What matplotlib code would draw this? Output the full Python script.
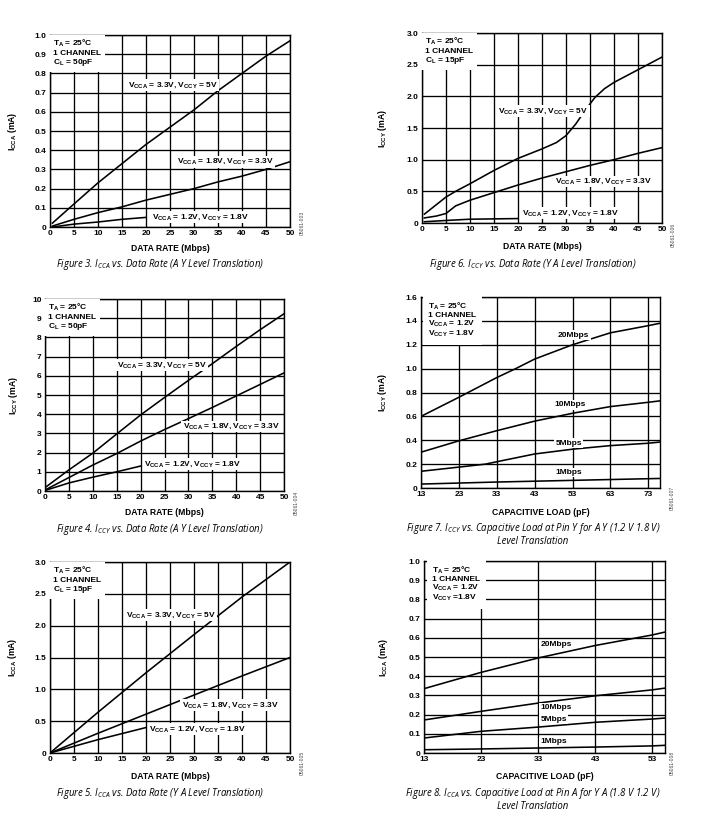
import matplotlib
matplotlib.use('Agg')
import matplotlib.pyplot as plt

plt.rcParams['font.family'] = 'Liberation Sans'
plt.rcParams['font.weight'] = 'bold'
plt.rcParams['mathtext.fontset'] = 'custom'
plt.rcParams['mathtext.rm'] = 'Liberation Sans:bold'
plt.rcParams['mathtext.bf'] = 'Liberation Sans:bold'
plt.rcParams['mathtext.it'] = 'Open Sans:style=italic:weight=normal'

# ---- Figure 3: ICCA vs data rate (A->Y), CL = 50pF
f3_rate = [0.5, 5, 10, 15, 20, 25, 30, 35, 40, 45, 50]
f3_hi = [0.02, 0.12, 0.23, 0.33, 0.43, 0.52, 0.61, 0.71, 0.80, 0.89, 0.97]
f3_mid = [0.005, 0.04, 0.075, 0.105, 0.14, 0.17, 0.20, 0.235, 0.265, 0.30, 0.34]
f3_rate_lo = [0.5, 5, 10, 15, 20]
f3_lo = [0.0, 0.015, 0.026, 0.04, 0.05]

# ---- Figure 6: ICCY vs data rate (Y->A), CL = 15pF
f6_rate_hi = [0.5, 3, 5, 7, 10, 15, 20, 25, 28, 30, 32, 34, 36, 38, 40, 43, 45, 50]
f6_hi = [0.14, 0.29, 0.41, 0.50, 0.62, 0.83, 1.02, 1.17, 1.27, 1.38, 1.56, 1.78, 1.98, 2.12, 2.22, 2.34, 2.42, 2.62]
f6_rate_mid = [0.5, 3, 5, 7, 10, 15, 20, 25, 30, 35, 40, 45, 50]
f6_mid = [0.08, 0.11, 0.15, 0.27, 0.36, 0.48, 0.60, 0.71, 0.81, 0.91, 1.00, 1.10, 1.19]
f6_rate_lo = [0.5, 5, 10, 15, 20]
f6_lo = [0.02, 0.04, 0.06, 0.065, 0.07]

# ---- Figure 4: ICCY vs data rate (A->Y), CL = 50pF
f4_rate = [0.3, 5, 10, 15, 20, 25, 30, 35, 40, 45, 50]
f4_hi = [0.23, 1.1, 1.97, 2.97, 3.96, 4.87, 5.76, 6.63, 7.53, 8.40, 9.23]
f4_mid = [0.09, 0.7, 1.35, 1.95, 2.6, 3.2, 3.77, 4.35, 4.95, 5.55, 6.15]
f4_rate_lo = [0.3, 5, 10, 15, 20]
f4_lo = [0.05, 0.42, 0.72, 1.0, 1.3]

# ---- Figure 5: ICCA vs data rate (Y->A), CL = 15pF
f5_rate = [0, 10, 20, 30, 40, 50]
f5_hi = [0.0, 0.64, 1.26, 1.86, 2.45, 3.0]
f5_mid = [0.0, 0.31, 0.61, 0.91, 1.21, 1.5]
f5_rate_lo = [0, 10, 20]
f5_lo = [0.0, 0.21, 0.40]

# ---- Figure 7: ICCY vs capacitive load, A->Y (1.2V -> 1.8V)
f7_load_20 = [13, 23, 33, 38, 43, 53, 63, 73, 76.1]
f7_20 = [0.60, 0.76, 0.925, 1.0, 1.08, 1.20, 1.30, 1.36, 1.38]
f7_load_10 = [13, 23, 33, 43, 53, 63, 73, 76.1]
f7_10 = [0.30, 0.395, 0.48, 0.56, 0.626, 0.682, 0.718, 0.73]
f7_load_5 = [13, 23, 30, 33, 43, 53, 63, 73, 76.1]
f7_5 = [0.14, 0.175, 0.20, 0.22, 0.285, 0.325, 0.355, 0.375, 0.385]
f7_load_1 = [13, 33, 53, 76.1]
f7_1 = [0.033, 0.05, 0.064, 0.08]

# ---- Figure 8: ICCA vs capacitive load, Y->A (1.8V -> 1.2V)
f8_load = [13, 23, 33, 43, 53, 55.2]
f8_20 = [0.335, 0.42, 0.495, 0.56, 0.615, 0.63]
f8_10 = [0.172, 0.217, 0.26, 0.298, 0.329, 0.338]
f8_5 = [0.078, 0.113, 0.135, 0.16, 0.177, 0.182]
f8_1 = [0.017, 0.021, 0.026, 0.031, 0.037, 0.04]

rate_ticks = [0, 5, 10, 15, 20, 25, 30, 35, 40, 45, 50]
load_ticks_7 = [13, 23, 33, 43, 53, 63, 73]
load_ticks_8 = [13, 23, 33, 43, 53]

V33 = r'V$_{\mathbf{CCA}}$ = 3.3V, V$_{\mathbf{CCY}}$ = 5V'
V18 = r'V$_{\mathbf{CCA}}$ = 1.8V, V$_{\mathbf{CCY}}$ = 3.3V'
V12 = r'V$_{\mathbf{CCA}}$ = 1.2V, V$_{\mathbf{CCY}}$ = 1.8V'

FS = 6.0
W, H = 725, 822


def fmt(v, dec):
    if v == 0:
        return '0'
    return f'{v:.{dec}f}'


def setup(rect, xlim, xticks, ylim, ystep, dec, ylabel, xlabel, ylab_x, xlab_y):
    l, t, r, b = rect
    ax = fig.add_axes([l / W, 1 - b / H, (r - l) / W, (b - t) / H])
    ax.set_xlim(*xlim)
    ax.set_ylim(*ylim)
    ax.set_xticks(xticks)
    ax.set_xticklabels([str(x) for x in xticks], fontweight='bold', fontsize=FS)
    n = int(round(ylim[1] / ystep))
    yt = [i * ystep for i in range(n + 1)]
    ax.set_yticks(yt)
    ax.set_yticklabels([fmt(v, dec) for v in yt], fontweight='bold', fontsize=FS)
    ax.tick_params(length=0, pad=2.5)
    ax.grid(True, color='black', lw=0.95)
    for s in ax.spines.values():
        s.set_linewidth(1.0)
    ax.set_ylabel(ylabel, fontsize=FS + 0.2, fontweight='bold')
    ax.set_xlabel(xlabel, fontsize=FS + 0.2, fontweight='bold')
    ax.yaxis.set_label_coords(ylab_x, 0.5)
    ax.xaxis.set_label_coords(0.5, xlab_y)
    return ax


def info(ax, txt, x=0.012, y=0.985, pad=0.45, ls=1.1):
    ax.text(x, y, txt, transform=ax.transAxes, ha='left', va='top', fontsize=FS,
            fontweight='bold', linespacing=ls, zorder=4,
            bbox=dict(boxstyle=f'square,pad={pad}', fc='white', ec='none'))


def label(ax, x, y, txt, ha='left'):
    ax.text(x, y, txt, ha=ha, va='center', fontsize=FS, fontweight='bold', zorder=4,
            bbox=dict(boxstyle='square,pad=0.15', fc='white', ec='none'))


def curve(ax, x, y):
    ax.plot(x, y, color='black', lw=1.15, zorder=3)


def caption(x, y, txt):
    fig.text(x / W, 1 - y / H, txt, ha='center', va='center', fontsize=6.9,
             family='Open Sans', style='italic', weight='normal')


def tag(x, y, txt):
    fig.text(x / W, 1 - y / H, txt, ha='center', va='center', fontsize=3.6,
             rotation=90, color='#444444', weight='normal')


fig = plt.figure(figsize=(7.25, 8.22), dpi=100)

ICCA = r'I$_{\mathbf{CCA}}$ (mA)'
ICCY = r'I$_{\mathbf{CCY}}$ (mA)'
RATE = 'DATA RATE (Mbps)'
LOAD = 'CAPACITIVE LOAD (pF)'

# Figure 3
ax = setup((50, 35, 290, 227), (0, 50), rate_ticks, (0, 1.0), 0.1, 1, ICCA, RATE, -0.128, -0.09)
curve(ax, f3_rate, f3_hi)
curve(ax, f3_rate, f3_mid)
curve(ax, f3_rate_lo, f3_lo)
label(ax, 16.3, 0.74, V33)
label(ax, 26.4, 0.34, V18)
label(ax, 21.2, 0.052, V12)
info(ax, 'T$_{\\mathbf{A}}$ = 25°C\n1 CHANNEL\nC$_{\\mathbf{L}}$ = 50pF')
caption(160, 265, r'Figure 3. $\mathit{I_{CCA}}$ vs. Data Rate (A Y Level Translation)')
tag(302, 223, '05061-003')

# Figure 6
ax = setup((422, 33, 662, 223), (0, 50), rate_ticks, (0, 3.0), 0.5, 1, ICCY, RATE, -0.1375, -0.102)
curve(ax, f6_rate_hi, f6_hi)
curve(ax, f6_rate_mid, f6_mid)
curve(ax, f6_rate_lo, f6_lo)
label(ax, 15.9, 1.77, V33)
label(ax, 27.7, 0.655, V18)
label(ax, 20.8, 0.157, V12)
info(ax, 'T$_{\\mathbf{A}}$ = 25°C\n1 CHANNEL\nC$_{\\mathbf{L}}$ = 15pF')
caption(533, 265, r'Figure 6. $\mathit{I_{CCY}}$ vs. Data Rate (Y A Level Translation)')
tag(673, 235, '05061-006')

# Figure 4
ax = setup((45, 299, 284, 491), (0, 50), rate_ticks, (0, 10), 1, 0, ICCY, RATE, -0.105, -0.09)
curve(ax, f4_rate, f4_hi)
curve(ax, f4_rate, f4_mid)
curve(ax, f4_rate_lo, f4_lo)
label(ax, 15.1, 6.54, V33)
label(ax, 28.8, 3.36, V18)
label(ax, 20.7, 1.41, V12)
info(ax, 'T$_{\\mathbf{A}}$ = 25°C\n1 CHANNEL\nC$_{\\mathbf{L}}$ = 50pF')
caption(160, 529, r'Figure 4. $\mathit{I_{CCY}}$ vs. Data Rate (A Y Level Translation)')
tag(296, 503, '05061-004')

# Figure 7
ax = setup((421, 297, 660, 488), (13, 76.1), load_ticks_7, (0, 1.6), 0.2, 1, ICCY, LOAD, -0.134, -0.106)
curve(ax, f7_load_20, f7_20)
curve(ax, f7_load_10, f7_10)
curve(ax, f7_load_5, f7_5)
curve(ax, f7_load_1, f7_1)
label(ax, 53.3, 1.28, '20Mbps', ha='center')
label(ax, 52.3, 0.696, '10Mbps', ha='center')
label(ax, 52.0, 0.376, '5Mbps', ha='center')
label(ax, 52.0, 0.131, '1Mbps', ha='center')
info(ax, 'T$_{\\mathbf{A}}$ = 25°C\n1 CHANNEL\nV$_{\\mathbf{CCA}}$ = 1.2V\nV$_{\\mathbf{CCY}}$ = 1.8V',
     x=0.03, y=0.98, pad=0.65, ls=1.0)
caption(533, 528, r'Figure 7. $\mathit{I_{CCY}}$ vs. Capacitive Load at Pin Y for A Y (1.2 V 1.8 V)')
caption(533, 541, 'Level Translation')
tag(672, 498, '05061-007')

# Figure 5
ax = setup((50, 562, 290, 753), (0, 50), rate_ticks, (0, 3.0), 0.5, 1, ICCA, RATE, -0.128, -0.101)
curve(ax, f5_rate, f5_hi)
curve(ax, f5_rate, f5_mid)
curve(ax, f5_rate_lo, f5_lo)
label(ax, 15.8, 2.17, V33)
label(ax, 27.4, 0.75, V18)
label(ax, 20.7, 0.38, V12)
info(ax, 'T$_{\\mathbf{A}}$ = 25°C\n1 CHANNEL\nC$_{\\mathbf{L}}$ = 15pF')
caption(160, 793, r'Figure 5. $\mathit{I_{CCA}}$ vs. Data Rate (Y A Level Translation)')
tag(302, 763, '05061-005')

# Figure 8
ax = setup((424, 561, 665, 753), (13, 55.2), load_ticks_8, (0, 1.0), 0.1, 1, ICCA, LOAD, -0.141, -0.098)
curve(ax, f8_load, f8_20)
curve(ax, f8_load, f8_10)
curve(ax, f8_load, f8_5)
curve(ax, f8_load, f8_1)
label(ax, 33.4, 0.565, '20Mbps')
label(ax, 33.4, 0.235, '10Mbps')
label(ax, 33.4, 0.176, '5Mbps')
label(ax, 33.4, 0.061, '1Mbps')
info(ax, 'T$_{\\mathbf{A}}$ = 25°C\n1 CHANNEL\nV$_{\\mathbf{CCA}}$ = 1.2V\nV$_{\\mathbf{CCY}}$ =1.8V',
     x=0.035, y=0.98, pad=0.65, ls=1.0)
caption(533, 793, r'Figure 8. $\mathit{I_{CCA}}$ vs. Capacitive Load at Pin A for Y A (1.8 V 1.2 V)')
caption(533, 806, 'Level Translation')
tag(672, 763, '05061-008')

fig.savefig('out.png', dpi=100, facecolor='white')
